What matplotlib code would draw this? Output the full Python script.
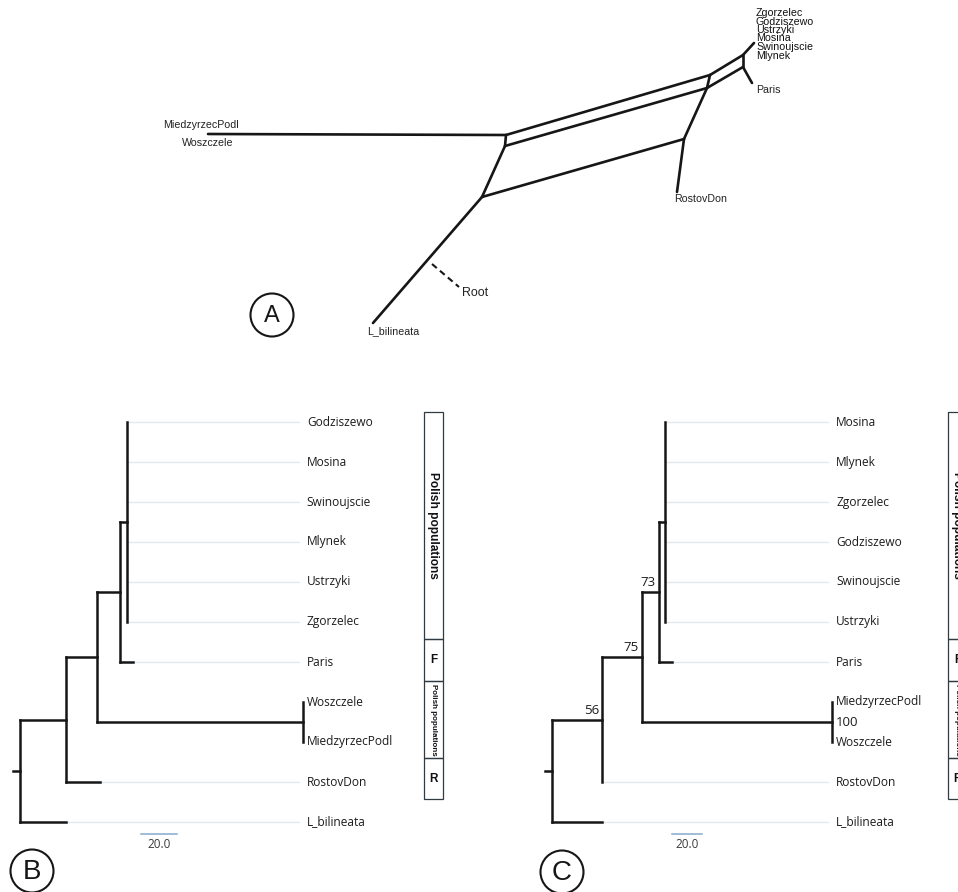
#!/usr/bin/env python3

import matplotlib.pyplot as plt
from matplotlib.patches import Circle, Rectangle

W, H = 958, 892
OUT_FILE = "out.png"

BRANCH = "#161616"
GUIDE = "#e1e8ee"
TEXT = "#1c1c1c"
SCALE_COLOR = "#86abcb"
TREE_FONT = "Open Sans"
NET_FONT = "Liberation Sans"

# Panel A: split network, node layout in image pixels (y grows downwards)
NET_NODES = ["mie", "p1", "p2", "p3", "q1", "q2", "r1", "s1", "s2", "ros", "lbi", "pol", "par"]
NET_X = [208, 506, 505, 482, 710, 707, 684, 743, 743, 677, 373, 754, 752]
NET_Y = [134, 135, 146, 197, 75, 88, 139, 55, 67, 192, 323, 43, 83]
NET_EDGES = [("mie", "p1"), ("p1", "p2"), ("p1", "q1"), ("p2", "q2"), ("q1", "q2"),
             ("p2", "p3"), ("p3", "r1"), ("r1", "q2"), ("r1", "ros"), ("p3", "lbi"),
             ("q1", "s1"), ("q2", "s2"), ("s1", "s2"), ("s1", "pol"), ("s2", "par")]
NET_ROOT_X = [432, 459]
NET_ROOT_Y = [264, 287]

NET_POLISH = ["Zgorzelec", "Godziszewo", "Ustrzyki", "Mosina", "Swinoujscie", "Mlynek"]
NET_POLISH_Y = [13, 22, 30, 38, 47, 56]
NET_OTHER = ["Paris", "RostovDon", "MiedzyrzecPodl", "Woszczele", "L_bilineata"]
NET_OTHER_X = [756, 674, 163, 182, 367]
NET_OTHER_Y = [90, 199, 125, 143, 331]

# Panel B: tree as a parent table (branch lengths in tree units)
B_NODES = ["root", "n1", "n2", "n3", "pol", "Godziszewo", "Mosina", "Swinoujscie", "Mlynek",
           "Ustrzyki", "Zgorzelec", "Paris", "pair", "Woszczele", "MiedzyrzecPodl",
           "RostovDon", "L_bilineata"]
B_PARENTS = [None, "root", "n1", "n2", "n3", "pol", "pol", "pol", "pol", "pol", "pol",
             "n3", "n2", "pair", "pair", "n1", "root"]
B_LENGTHS = [0, 25.6, 17.1, 12.8, 3.9, 0, 0, 0, 0, 0, 0, 7.2, 114.4, 0, 0, 18.9, 25.6]

# Panel C: tree with bootstrap support
C_NODES = ["root", "n1", "n2", "n3", "pol", "Mosina", "Mlynek", "Zgorzelec", "Godziszewo",
           "Swinoujscie", "Ustrzyki", "Paris", "pair", "MiedzyrzecPodl", "Woszczele",
           "RostovDon", "L_bilineata"]
C_PARENTS = B_PARENTS
C_LENGTHS = [0, 33.3, 26.7, 11.3, 4.0, 0, 0, 0, 0, 0, 0, 8.7, 126.7, 0, 0, 0, 33.3]
C_SUPPORT_NODES = ["n1", "n2", "n3", "pair"]
C_SUPPORT = [56, 75, 73, 100]

SCALE_LEN = 20.0

GROUPS = ["Polish populations", "F", "Polish populations", "R"]
GROUP_EDGES_PX = [412, 639, 681, 758, 799]
GROUP_FONTSIZE = [8.6, 8.5, 5.8, 8.5]
GROUP_ROTATION = [-90, 0, -90, 0]

ROW0, ROW = 422, 40


def tree_layout(nodes, parents, lengths):
    children = {n: [] for n in nodes}
    for n, p in zip(nodes, parents):
        if p is not None:
            children[p].append(n)
    xpos = {}
    for n, p, bl in zip(nodes, parents, lengths):
        xpos[n] = bl if p is None else xpos[p] + bl
    tips = [n for n in nodes if not children[n]]
    ypos = {t: i for i, t in enumerate(tips)}
    for n in reversed(nodes):
        if children[n]:
            ys = [ypos[c] for c in children[n]]
            ypos[n] = (min(ys) + max(ys)) / 2
    return children, xpos, ypos, tips


def draw_network(ax):
    pos = {n: (x, y) for n, x, y in zip(NET_NODES, NET_X, NET_Y)}
    for a, b in NET_EDGES:
        ax.plot([pos[a][0], pos[b][0]], [pos[a][1], pos[b][1]],
                color=BRANCH, lw=1.9, solid_capstyle="round")
    ax.plot(NET_ROOT_X, NET_ROOT_Y, color=BRANCH, lw=1.5, ls=(0, (3, 2)))
    for name, y in zip(NET_POLISH, NET_POLISH_Y):
        ax.text(756, y, name, fontsize=7.7, family=NET_FONT, color="#111111",
                ha="left", va="center")
    for name, x, y in zip(NET_OTHER, NET_OTHER_X, NET_OTHER_Y):
        ax.text(x, y, name, fontsize=7.7, family=NET_FONT, color="#222222",
                ha="left", va="center")
    ax.text(462, 293, "Root", fontsize=8.9, family=NET_FONT, color="#222222",
            ha="left", va="center")


def draw_letter(ax, x, y, letter, size):
    ax.add_patch(Circle((x, y), 21.5, fill=False, ec=BRANCH, lw=1.5))
    ax.text(x, y + 1, letter, fontsize=size, family=NET_FONT, color=BRANCH,
            ha="center", va="center")


def draw_groups(ax, left):
    for i, name in enumerate(GROUPS):
        top, bottom = GROUP_EDGES_PX[i], GROUP_EDGES_PX[i + 1]
        ax.add_patch(Rectangle((left, top), 19, bottom - top, fill=False,
                               ec="#2f3b40", lw=0.9))
        ax.text(left + 9.5, (top + bottom) / 2, name, fontsize=GROUP_FONTSIZE[i],
                family=NET_FONT, weight="bold", color="#111111",
                rotation=GROUP_ROTATION[i], ha="center", va="center")


def draw_tree(fig, nodes, parents, lengths, origin, scale, px_left, px_right,
              scale_start, support_nodes=(), support=()):
    top, bottom = 390, 892
    ax = fig.add_axes([px_left / W, 1 - bottom / H, (px_right - px_left) / W, (bottom - top) / H])
    ax.set_xlim((px_left - origin) / scale, (px_right - origin) / scale)
    ax.set_ylim((bottom - ROW0) / ROW, (top - ROW0) / ROW)
    ax.axis("off")
    ax.patch.set_alpha(0)

    children, xpos, ypos, tips = tree_layout(nodes, parents, lengths)
    label_x = max(xpos[t] for t in tips) + 4 / scale
    guide_end = label_x - 8 / scale

    for t in tips:
        if guide_end > xpos[t]:
            ax.plot([xpos[t], guide_end], [ypos[t], ypos[t]], color=GUIDE, lw=1.0, zorder=1)
        ax.text(label_x, ypos[t], t, fontsize=8.6, family=TREE_FONT, color=TEXT,
                ha="left", va="center")

    for n, p in zip(nodes, parents):
        if p is not None and xpos[n] > xpos[p]:
            ax.plot([xpos[p], xpos[n]], [ypos[n], ypos[n]], color=BRANCH, lw=1.8,
                    solid_capstyle="projecting", zorder=3)
        if children[n]:
            ys = [ypos[c] for c in children[n]]
            ax.plot([xpos[n], xpos[n]], [min(ys), max(ys)], color=BRANCH, lw=1.8,
                    solid_capstyle="projecting", zorder=3)
    root = nodes[0]
    ax.plot([xpos[root] - 7 / scale, xpos[root]], [ypos[root], ypos[root]],
            color=BRANCH, lw=1.8, zorder=3)

    for n, s in zip(support_nodes, support):
        if s == 100:
            ax.annotate(str(s), (xpos[n], ypos[n]), xytext=(4, 0), textcoords="offset pixels",
                        fontsize=9.5, family=TREE_FONT, color=TEXT, ha="left", va="center")
        else:
            ax.annotate(str(s), (xpos[n], ypos[n]), xytext=(-3, 3), textcoords="offset pixels",
                        fontsize=9.5, family=TREE_FONT, color=TEXT, ha="right", va="bottom")

    sy = (834 - ROW0) / ROW
    ax.plot([scale_start, scale_start + SCALE_LEN], [sy, sy], color=SCALE_COLOR, lw=1.1)
    ax.text(scale_start + SCALE_LEN / 2, (845 - ROW0) / ROW, f"{SCALE_LEN:.1f}",
            fontsize=8.5, family=TREE_FONT, color="#3a3a3a", ha="center", va="center")
    return ax


def main():
    fig = plt.figure(figsize=(W / 100, H / 100), dpi=100)
    fig.patch.set_facecolor("white")

    canvas = fig.add_axes([0, 0, 1, 1])
    canvas.set_xlim(0, W)
    canvas.set_ylim(H, 0)
    canvas.axis("off")

    draw_network(canvas)
    draw_letter(canvas, 272, 315, "A", 17)
    draw_letter(canvas, 32, 871, "B", 20)
    draw_letter(canvas, 562, 872, "C", 20)
    draw_groups(canvas, 424)
    draw_groups(canvas, 948)

    draw_tree(fig, B_NODES, B_PARENTS, B_LENGTHS, origin=20, scale=1.8,
              px_left=0, px_right=480, scale_start=67.2)
    draw_tree(fig, C_NODES, C_PARENTS, C_LENGTHS, origin=552, scale=1.5,
              px_left=480, px_right=958, scale_start=80.0,
              support_nodes=C_SUPPORT_NODES, support=C_SUPPORT)

    fig.savefig(OUT_FILE, dpi=100)


if __name__ == "__main__":
    main()
